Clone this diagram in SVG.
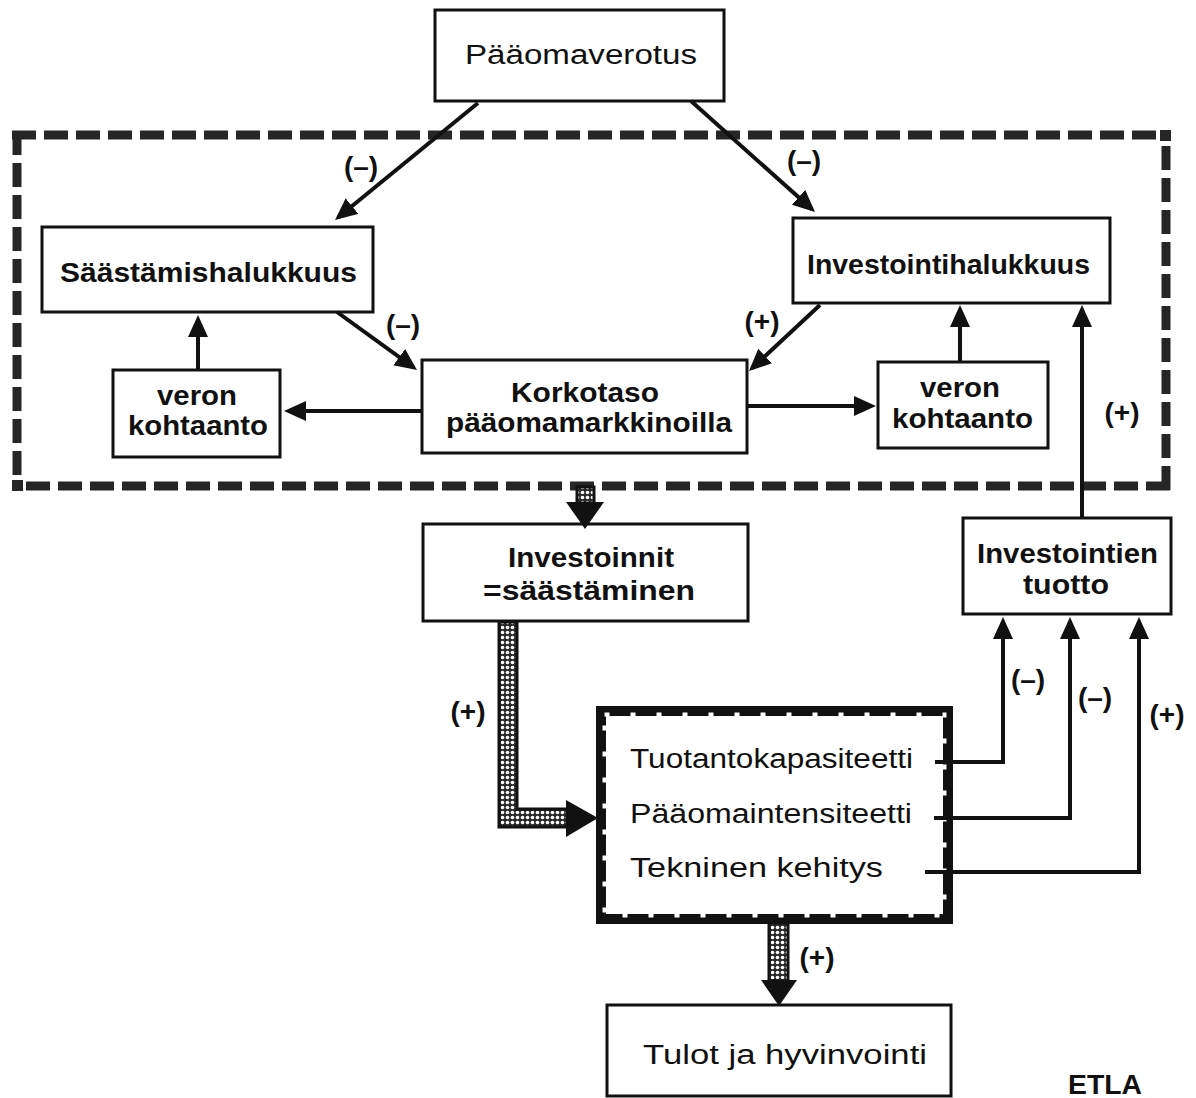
<svg xmlns="http://www.w3.org/2000/svg" width="1196" height="1098" viewBox="0 0 1196 1098">
<style>
text{font-family:"Liberation Sans",Arial,sans-serif;fill:#111}
.b{font-size:27px;font-weight:bold}
.r{font-size:27px}
.lab{font-size:28px;font-weight:bold}
.box{fill:#fff;stroke:#111;stroke-width:3}
.con{fill:none;stroke:#111;stroke-width:4}
.dash{fill:none;stroke:#262626;stroke-width:9;stroke-dasharray:24 8}
.head{fill:#111}
.hatch{fill:url(#dots);stroke:#111;stroke-width:3}
</style>
<defs>
<marker id="ah" markerUnits="userSpaceOnUse" markerWidth="24" markerHeight="22" refX="18" refY="10" orient="auto">
<path d="M0,0 L22,10 L0,20 z" fill="#111"/>
</marker>
<pattern id="dots" patternUnits="userSpaceOnUse" width="5" height="5">
<rect width="5" height="5" fill="#2a2a2a"/>
<circle cx="2.5" cy="2.5" r="1.8" fill="#fff"/>
</pattern>
</defs>

<g id="frame">
<path class="dash" d="M12,135 H1170"/>
<path class="dash" d="M17,131 V490"/>
<path class="dash" d="M1166,490 V131"/>
<path class="dash" d="M1170,486 H12"/>
<rect x="1160" y="130" width="11" height="11" fill="#262626"/>
<rect x="12" y="480" width="11" height="11" fill="#262626"/>
</g>

<g id="paaomaverotus">
<rect class="box" x="435" y="10" width="289" height="91"/>
<text class="r" x="465" y="64" font-size="29" textLength="232" lengthAdjust="spacingAndGlyphs">Pääomaverotus</text>
</g>
<g id="saastamishalukkuus">
<rect class="box" x="42" y="227" width="331" height="85"/>
<text class="b" x="60" y="282" textLength="297" lengthAdjust="spacingAndGlyphs">Säästämishalukkuus</text>
</g>
<g id="investointihalukkuus">
<rect class="box" x="793" y="218" width="317" height="85"/>
<text class="b" x="807" y="274" textLength="283" lengthAdjust="spacingAndGlyphs">Investointihalukkuus</text>
</g>
<g id="veron-vasen">
<rect class="box" x="113" y="370" width="167" height="87"/>
<text class="b" x="157" y="405" textLength="80" lengthAdjust="spacingAndGlyphs">veron</text>
<text class="b" x="128" y="435" textLength="140" lengthAdjust="spacingAndGlyphs">kohtaanto</text>
</g>
<g id="korkotaso">
<rect class="box" x="422" y="360" width="325" height="93"/>
<text class="b" x="511" y="402" textLength="148" lengthAdjust="spacingAndGlyphs">Korkotaso</text>
<text class="b" x="446" y="432" textLength="286" lengthAdjust="spacingAndGlyphs">pääomamarkkinoilla</text>
</g>
<g id="veron-oikea">
<rect class="box" x="878" y="362" width="170" height="86"/>
<text class="b" x="920" y="397" textLength="80" lengthAdjust="spacingAndGlyphs">veron</text>
<text class="b" x="892" y="428" textLength="141" lengthAdjust="spacingAndGlyphs">kohtaanto</text>
</g>
<g id="investoinnit">
<rect class="box" x="423" y="524" width="325" height="97"/>
<text class="b" x="508" y="567" textLength="166" lengthAdjust="spacingAndGlyphs">Investoinnit</text>
<text class="b" x="483" y="600" textLength="212" lengthAdjust="spacingAndGlyphs">=säästäminen</text>
</g>
<g id="investointien-tuotto">
<rect class="box" x="963" y="518" width="208" height="96"/>
<text class="b" x="977" y="563" textLength="181" lengthAdjust="spacingAndGlyphs">Investointien</text>
<text class="b" x="1023" y="594" textLength="86" lengthAdjust="spacingAndGlyphs">tuotto</text>
</g>
<g id="kapasiteetti">
<rect x="601" y="711" width="347" height="208" fill="#fff" stroke="#111" stroke-width="10"/>
<rect x="604.5" y="714.5" width="340" height="201" fill="none" stroke="#fff" stroke-width="4" stroke-dasharray="5 21"/>
<text class="r" x="630" y="768" textLength="283" lengthAdjust="spacingAndGlyphs">Tuotantokapasiteetti</text>
<text class="r" x="630" y="823" textLength="282" lengthAdjust="spacingAndGlyphs">Pääomaintensiteetti</text>
<text class="r" x="630" y="877" textLength="253" lengthAdjust="spacingAndGlyphs">Tekninen  kehitys</text>
</g>
<g id="tulot">
<rect class="box" x="607" y="1005" width="344" height="91"/>
<text class="r" x="643" y="1064" textLength="284" lengthAdjust="spacingAndGlyphs">Tulot  ja  hyvinvointi</text>
</g>
<text class="b" x="1068" y="1094" font-size="26" textLength="74" lengthAdjust="spacingAndGlyphs">ETLA</text>

<g id="connectors">
<path class="con" d="M478,103 L338.1,217.5" marker-end="url(#ah)"/>
<path class="con" d="M691,101 L812,209.3" marker-end="url(#ah)"/>
<path class="con" d="M337,312 L413.8,367.7" marker-end="url(#ah)"/>
<path class="con" d="M820,305 L751.9,368.3" marker-end="url(#ah)"/>
<path class="con" d="M198,370 V319" marker-end="url(#ah)"/>
<path class="con" d="M421,411 H288" marker-end="url(#ah)"/>
<path class="con" d="M748,406 H872" marker-end="url(#ah)"/>
<path class="con" d="M960,362 V309" marker-end="url(#ah)"/>
<path class="con" d="M1082,519 V309" marker-end="url(#ah)"/>
<path class="con" d="M935,762 H1003 V621" marker-end="url(#ah)"/>
<path class="con" d="M934,818 H1070 V621" marker-end="url(#ah)"/>
<path class="con" d="M925,872 H1139 V621" marker-end="url(#ah)"/>
<rect class="hatch" x="577" y="487" width="17" height="16"/>
<polygon class="head" points="566,502 604,502 585,529"/>
<polygon class="hatch" points="499,622 517,622 517,809 568,809 568,827 499,827"/>
<polygon class="head" points="566,800 566,837 598,818"/>
<rect class="hatch" x="769" y="923" width="19" height="58"/>
<polygon class="head" points="761,980 797,980 779,1006"/>
<text class="lab" x="361" y="176" text-anchor="middle">(–)</text>
<text class="lab" x="804" y="170" text-anchor="middle">(–)</text>
<text class="lab" x="403" y="334" text-anchor="middle">(–)</text>
<text class="lab" x="762" y="331" text-anchor="middle">(+)</text>
<text class="lab" x="1122" y="422" text-anchor="middle">(+)</text>
<text class="lab" x="468" y="721" text-anchor="middle">(+)</text>
<text class="lab" x="1028" y="689" text-anchor="middle">(–)</text>
<text class="lab" x="1095" y="707" text-anchor="middle">(–)</text>
<text class="lab" x="1167" y="724" text-anchor="middle">(+)</text>
<text class="lab" x="817" y="967" text-anchor="middle">(+)</text>
</g>
</svg>
